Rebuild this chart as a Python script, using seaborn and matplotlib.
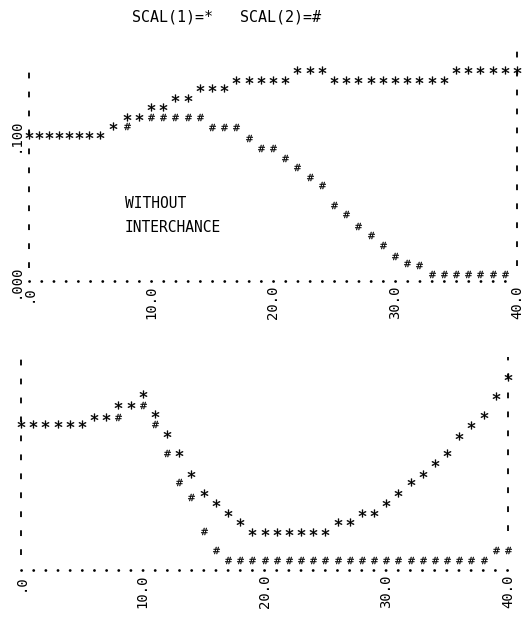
import numpy as np
import pandas as pd
import matplotlib
matplotlib.use("Agg")
import matplotlib.pyplot as plt
import seaborn as sns

# ---------------- data ----------------
title = "SCAL(1)=*   SCAL(2)=#"
note = "WITHOUT\nINTERCHANCE"

top_x = [0, 0.82, 1.64, 2.46, 3.28, 4.1, 4.92, 5.82, 6.89] + list(range(8, 41))
top_scal1 = ([0.100] * 8 + [0.106, 0.112, 0.112, 0.119, 0.119, 0.125, 0.125,
             0.132, 0.132, 0.132] + [0.138] * 5 + [0.1445] * 3 + [0.138] * 10
             + [0.1445] * 6)
top_scal2 = ([0.100] * 8 + [0.106, 0.106, 0.112] + [0.112] * 5 + [0.1055] * 3
             + [0.098, 0.091, 0.091, 0.084, 0.078, 0.071, 0.066, 0.052, 0.046,
                0.038, 0.0315, 0.025, 0.017, 0.012, 0.011] + [0.0045] * 7
             + [np.nan])

bot_x = list(range(0, 41))
bot_scal1 = ([0.100] * 6 + [0.105, 0.105, 0.113, 0.113, 0.1205, 0.107, 0.093,
             0.080, 0.066, 0.053, 0.046, 0.039, 0.033] + [0.026] * 7
             + [0.033, 0.033, 0.039, 0.039, 0.046, 0.053, 0.060, 0.066, 0.073,
                0.080, 0.092, 0.099, 0.106, 0.119, 0.132])
bot_scal2 = ([0.100] * 6 + [0.105, 0.105, 0.105, 0.113, 0.113, 0.100, 0.080,
             0.060, 0.050, 0.027, 0.0137] + [0.0068] * 22 + [0.0137, 0.0137])

xticks = [0, 10, 20, 30, 40]
xticklabels = [".0", "10.0", "20.0", "30.0", "40.0"]
top_yticks = [0.0, 0.1]
top_yticklabels = [".000", ".100"]

# ---------------- style ----------------
sns.set_theme(style="white")
plt.rcParams["font.family"] = ["DejaVu Sans Mono", "DejaVu Sans"]
plt.rcParams["mathtext.fontset"] = "dejavusans"

W, H = 525, 618
fig = plt.figure(figsize=(W / 100, H / 100), dpi=100)
fig.patch.set_facecolor("white")


def px_axes(x0, x40, y0):
    # axes rectangle from pixel positions of x=0, x=40 and y=0 (ylim 0..0.16)
    top = y0 - 0.16 * 1460
    return fig.add_axes([x0 / W, 1 - y0 / H, (x40 - x0) / W, (y0 - top) / H])


def draw(ax, x, s1, s2, period_px, lbounds, rbounds):
    df = pd.DataFrame({"x": x, "s1": s1, "s2": s2})
    vis2 = df[df.s2.notna() & ~np.isclose(df.s1, df.s2.fillna(-1))]
    sns.scatterplot(data=vis2, x="x", y="s2", marker=r"$\#$", s=26,
                    color="black", edgecolor="black", linewidth=0.2,
                    ax=ax, clip_on=False, legend=False, zorder=3)
    sns.scatterplot(data=df, x="x", y="s1", marker=r"$*$", s=30,
                    color="black", edgecolor="black", linewidth=0.3,
                    ax=ax, clip_on=False, legend=False, zorder=4)
    ax.set_xlim(0, 40)
    ax.set_ylim(0, 0.16)
    ax.set_xlabel("")
    ax.set_ylabel("")
    ax.set_facecolor("white")
    ax.spines["top"].set_visible(False)
    # dotted x axis
    lw = 2.0
    sp = ax.spines["bottom"]
    sp.set_color("black")
    sp.set_linewidth(lw)
    sp.set_capstyle("round")
    sp.set_linestyle((0, (0.05, period_px * 0.72 / lw - 0.05)))
    # dashed vertical axes
    for side, b in (("left", lbounds), ("right", rbounds)):
        s = ax.spines[side]
        s.set_visible(True)
        s.set_color("black")
        s.set_linewidth(1.3)
        s.set_capstyle("butt")
        s.set_linestyle((0, (3.2, 7.3)))
        s.set_bounds(*b)
    ax.set_xticks(xticks)
    ax.set_xticklabels(xticklabels, rotation=90, fontsize=10)
    ax.tick_params(axis="both", length=0, colors="black")
    ax.tick_params(axis="x", pad=3)
    ax.grid(False)


ax1 = px_axes(29, 517, 281)
draw(ax1, top_x, top_scal1, top_scal2, 12.2, (0.009, 0.147), (0.01, 0.158))
ax1.set_yticks(top_yticks)
ax1.set_yticklabels(top_yticklabels, fontsize=10)
for lab in ax1.get_yticklabels():
    lab.set_rotation(90)
    lab.set_va("center")
ax1.tick_params(axis="y", pad=4.5)
ax1.text(7.87, 0.0449, note, ha="left", va="center", fontsize=10.5,
         linespacing=1.7, color="black")

ax2 = px_axes(21, 508, 570)
draw(ax2, bot_x, bot_scal1, bot_scal2, 12.15, (0.01, 0.147), (0.027, 0.146))
ax2.set_yticks([])

fig.text(132 / W, 1 - 17 / H, title, ha="left", va="center", fontsize=10.8,
         color="black")

fig.savefig("out.png", dpi=100, facecolor="white")
